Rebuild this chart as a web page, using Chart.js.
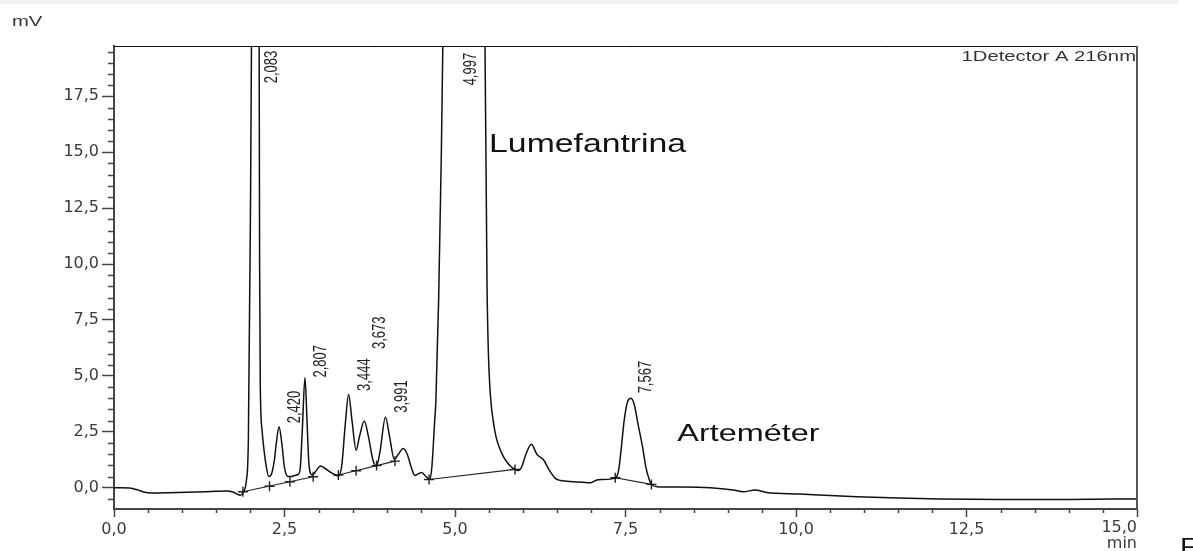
<!DOCTYPE html>
<html>
<head>
<meta charset="utf-8">
<script src="https://cdn.jsdelivr.net/npm/chart.js@4.4.1/dist/chart.umd.min.js"></script>
<style>
  html, body { margin: 0; padding: 0; background: #fff; }
  canvas { display: block; }
</style>
</head>
<body>
<canvas id="chrom" width="1193" height="551"></canvas>
<script>
// chromatogram trace (min, mV)
const times = [0.00, 0.10, 0.23, 0.35, 0.45, 0.55, 0.80, 1.20, 1.50, 1.66, 1.75, 1.85, 1.90, 1.94, 1.97,
  2.00, 2.02, 2.05, 2.083, 2.11, 2.125, 2.135, 2.145, 2.17, 2.20, 2.23, 2.27, 2.30, 2.35, 2.38, 2.42,
  2.46, 2.50, 2.55, 2.60, 2.65, 2.70, 2.73, 2.76, 2.80, 2.83, 2.855, 2.88, 2.91, 2.95, 3.03, 3.10,
  3.20, 3.29, 3.34, 3.39, 3.44, 3.49, 3.55, 3.60, 3.67, 3.73, 3.80, 3.85, 3.90, 3.98, 4.04, 4.11,
  4.17, 4.24, 4.30, 4.36, 4.41, 4.46, 4.51, 4.56, 4.63, 4.66, 4.68, 4.70, 4.72, 4.76, 4.80, 4.85,
  4.997, 5.20, 5.38, 5.44, 5.47, 5.49, 5.52, 5.56, 5.60, 5.65, 5.70, 5.76, 5.82, 5.88, 5.93,
  5.98, 6.04, 6.12, 6.20, 6.30, 6.38, 6.47, 6.55, 6.74, 6.98, 7.08, 7.15, 7.35, 7.40, 7.44, 7.48,
  7.53, 7.58, 7.63, 7.68, 7.75, 7.80, 7.85, 7.88, 7.96, 8.30, 8.74, 9.08, 9.23, 9.40, 9.57, 10.06,
  10.50, 10.89, 11.50, 12.11, 13.00, 14.00, 15.00];
const signal = [0.00, 0.00, -0.01, -0.10, -0.20, -0.23, -0.22, -0.19, -0.16, -0.15, -0.20, -0.33, -0.18, 0.30, 2.10,
  12.0, 22.0, 50.0, 80.0, 55.0, 25.0, 10.0, 4.6, 2.6, 1.68, 1.0, 0.5, 0.55, 1.2, 2.0, 2.73,
  2.0, 0.9, 0.5, 0.5, 0.55, 0.6, 0.85, 2.5, 4.93, 3.0, 1.2, 0.65, 0.57, 0.7, 0.97, 0.85,
  0.65, 0.52, 1.0, 2.8, 4.17, 3.0, 1.68, 2.3, 2.98, 2.3, 1.2, 0.97, 1.6, 3.15, 2.3, 1.27,
  1.5, 1.76, 1.5, 0.9, 0.55, 0.62, 0.68, 0.55, 0.37, 0.9, 1.8, 2.9, 3.9, 8.4, 15.0, 26.0,
  48.0, 40.0, 28.0, 19.7, 9.0, 6.0, 4.1, 3.0, 2.3, 1.8, 1.45, 1.15, 0.95, 0.82, 0.77,
  0.95, 1.5, 1.94, 1.5, 1.24, 0.8, 0.42, 0.32, 0.27, 0.22, 0.35, 0.37, 0.43, 0.8, 1.83, 3.0,
  3.85, 4.0, 3.7, 2.9, 1.83, 0.9, 0.35, 0.15, 0.05, 0.03, 0.0, -0.10, -0.18, -0.10, -0.21, -0.28,
  -0.35, -0.40, -0.46, -0.50, -0.52, -0.52, -0.50];

// integration baselines
const baseStartT = [1.89, 3.29, 4.62, 7.35];
const baseStartV = [-0.18, 0.57, 0.37, 0.45];
const baseEndT = [2.92, 4.12, 5.88, 7.88];
const baseEndV = [0.49, 1.19, 0.82, 0.15];

// peak start/end marks
const markT = [1.89, 2.28, 2.58, 2.92, 3.29, 3.55, 3.85, 4.12, 4.62, 5.88, 7.35, 7.88];
const markV = [-0.18, 0.07, 0.27, 0.49, 0.57, 0.76, 0.99, 1.19, 0.37, 0.82, 0.45, 0.15];

// retention time labels
const peakT = [2.083, 2.420, 2.807, 3.444, 3.673, 3.991, 4.997, 7.567];
const peakLabelV = [18.08, 2.88, 4.93, 4.33, 6.2, 3.35, 17.99, 4.22];

// axis ticks
const xTicks = [];
for (let i = 0; i <= 30; i++) xTicks.push(i * 0.5);
const yTicks = [];
for (let i = -1; i <= 39; i++) yTicks.push(i * 0.5);

const fmt = (v) => v.toFixed(1).replace(".", ",");
const isMajor = (v) => Math.abs(v / 2.5 - Math.round(v / 2.5)) < 1e-6;

const datasets = [{
  data: times.map((t, i) => ({ x: t, y: signal[i] })),
  borderColor: "#111",
  borderWidth: 1.5,
  pointRadius: 0,
  cubicInterpolationMode: "monotone",
}];
baseStartT.forEach((t, i) => {
  datasets.push({
    data: [{ x: t, y: baseStartV[i] }, { x: baseEndT[i], y: baseEndV[i] }],
    borderColor: "#222",
    borderWidth: 1.1,
    pointRadius: 0,
  });
});
datasets.push({
  data: markT.map((t, i) => ({ x: t, y: markV[i] })),
  showLine: false,
  pointStyle: "cross",
  pointRadius: 5,
  borderColor: "#222",
  borderWidth: 1.4,
});

function txt(ctx, s, x, y, font, color, align, sx) {
  ctx.save();
  ctx.translate(x, y);
  ctx.scale(sx, 1);
  ctx.font = font;
  ctx.fillStyle = color;
  ctx.textAlign = align;
  ctx.textBaseline = "alphabetic";
  ctx.fillText(s, 0, 0);
  ctx.restore();
}

const decor = {
  id: "decor",
  afterDraw(chart) {
    const { ctx, chartArea: a, scales } = chart;
    const xs = scales.x, ys = scales.y;
    ctx.save();
    // top band
    ctx.fillStyle = "#f1f1f1";
    ctx.fillRect(0, 0, 1178, 4);
    // frame top / right
    ctx.strokeStyle = "#111";
    ctx.lineWidth = 1;
    ctx.beginPath();
    ctx.moveTo(a.left, a.top + 0.5);
    ctx.lineTo(a.right, a.top + 0.5);
    ctx.stroke();
    ctx.strokeStyle = "#555";
    ctx.lineWidth = 2;
    ctx.beginPath();
    ctx.moveTo(a.right, a.top);
    ctx.lineTo(a.right, a.bottom);
    ctx.stroke();
    // minor ticks
    ctx.strokeStyle = "#444";
    ctx.lineWidth = 1.5;
    ctx.beginPath();
    yTicks.filter((v) => !isMajor(v)).forEach((v) => {
      const y = Math.round(ys.getPixelForValue(v)) + 0.5;
      ctx.moveTo(a.left - 6, y);
      ctx.lineTo(a.left, y);
    });
    xTicks.filter((v) => !isMajor(v)).forEach((v) => {
      const x = Math.round(xs.getPixelForValue(v)) + 0.5;
      ctx.moveTo(x, a.bottom);
      ctx.lineTo(x, a.bottom + 4);
    });
    ctx.stroke();
    // retention time labels
    peakT.forEach((t, i) => {
      const x = xs.getPixelForValue(t) + 16;
      const y = ys.getPixelForValue(peakLabelV[i]);
      ctx.save();
      ctx.translate(x, y);
      ctx.rotate(-Math.PI / 2);
      ctx.scale(1, 1.35);
      ctx.font = "13px 'Liberation Sans', Arial, sans-serif";
      ctx.fillStyle = "#222";
      ctx.textAlign = "left";
      ctx.textBaseline = "middle";
      ctx.fillText(t.toFixed(3).replace(".", ","), 0, 0);
      ctx.restore();
    });
    const sans = "'Liberation Sans', Arial, sans-serif";
    txt(ctx, "mV", 12, 26, "15px " + sans, "#333", "left", 1.35);
    txt(ctx, "1Detector A 216nm", a.right - 1, 61, "15px " + sans, "#333", "right", 1.35);
    txt(ctx, "Lumefantrina", xs.getPixelForValue(5.5), ys.getPixelForValue(15.0), "25px " + sans, "#111", "left", 1.35);
    txt(ctx, "Arteméter", xs.getPixelForValue(8.26), ys.getPixelForValue(2.09), "24px " + sans, "#111", "left", 1.35);
    txt(ctx, fmt(15), xs.getPixelForValue(15), 532, "16px 'DejaVu Sans', sans-serif", "#3a3a3a", "right", 1);
    txt(ctx, "min", xs.getPixelForValue(15), 548, "16px 'DejaVu Sans', sans-serif", "#3a3a3a", "right", 1);
    txt(ctx, "F", 1180, 555, "24px " + sans, "#111", "left", 1.2);
    ctx.restore();
  },
};

new Chart(document.getElementById("chrom"), {
  type: "line",
  data: { datasets },
  options: {
    responsive: false,
    animation: false,
    layout: { padding: { top: 46, right: 56, left: 0, bottom: 0 } },
    plugins: { legend: { display: false }, tooltip: { enabled: false } },
    scales: {
      x: {
        type: "linear",
        min: 0,
        max: 15,
        afterBuildTicks: (s) => { s.ticks = xTicks.map((v) => ({ value: v })); },
        afterFit: (s) => { s.height = 42; },
        border: { color: "#444", width: 2 },
        grid: {
          drawOnChartArea: false,
          tickLength: 8,
          tickWidth: 1.5,
          tickColor: (c) => (c.tick && isMajor(c.tick.value) ? "#444" : "rgba(0,0,0,0)"),
        },
        ticks: {
          autoSkip: false,
          maxRotation: 0,
          padding: 3,
          color: "#3a3a3a",
          font: { family: "'DejaVu Sans', sans-serif", size: 16 },
          callback: (v) => (isMajor(v) && v < 15 ? fmt(v) : ""),
        },
      },
      y: {
        min: -0.95,
        max: 19.75,
        afterBuildTicks: (s) => { s.ticks = yTicks.map((v) => ({ value: v })); },
        afterFit: (s) => { s.width = 114; },
        border: { color: "#444", width: 2 },
        grid: {
          drawOnChartArea: false,
          tickLength: 12,
          tickWidth: 1.5,
          tickColor: (c) => (c.tick && isMajor(c.tick.value) ? "#444" : "rgba(0,0,0,0)"),
        },
        ticks: {
          autoSkip: false,
          padding: 3,
          color: "#3a3a3a",
          font: { family: "'DejaVu Sans', sans-serif", size: 16 },
          callback: (v) => (isMajor(v) ? fmt(v) : ""),
        },
      },
    },
  },
  plugins: [decor],
});
</script>
</body>
</html>
